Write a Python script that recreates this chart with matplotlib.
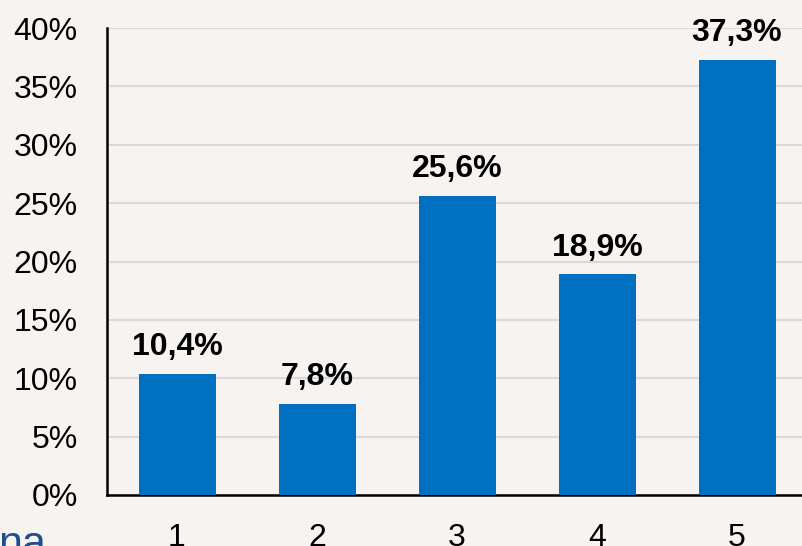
import matplotlib
matplotlib.use("Agg")
import matplotlib.pyplot as plt
from matplotlib.ticker import FuncFormatter

categories = ["1", "2", "3", "4", "5"]
values = [10.4, 7.8, 25.6, 18.9, 37.3]
labels = ["10,4%", "7,8%", "25,6%", "18,9%", "37,3%"]
yticks = [0, 5, 10, 15, 20, 25, 30, 35, 40]

plt.rcParams['font.family'] = ['Liberation Sans', 'DejaVu Sans']
bg = "#f6f3f0"
W, H = 802, 546
fig = plt.figure(figsize=(W / 100, H / 100), dpi=100, facecolor=bg)
ax = fig.add_axes([107 / W, (H - 495) / H, (807 - 107) / W, (495 - 28) / H])
ax.set_facecolor(bg)

x = list(range(1, len(categories) + 1))
ax.bar(x, values, width=0.55, color="#0070c0", zorder=3)
for xi, v, lab in zip(x, values, labels):
    ax.annotate(lab, (xi, v), xytext=(0, 13.5), textcoords="offset points",
                ha="center", va="baseline", fontsize=23, fontweight="bold", color="black")

ax.set_xlim(0.5, 5.5)
ax.set_ylim(0, 40)
ax.set_yticks(yticks)
ax.yaxis.set_major_formatter(FuncFormatter(lambda v, p: f"{int(v)}%"))
ax.set_xticks(x)
ax.set_xticklabels(categories)
ax.tick_params(axis="both", length=0, labelsize=23, colors="black")
ax.tick_params(axis="y", pad=21)
ax.tick_params(axis="x", pad=20)
ax.grid(axis="y", color="#d9d9d9", linewidth=1.5, zorder=0)
for s in ["top", "right"]:
    ax.spines[s].set_visible(False)
for s in ["left", "bottom"]:
    ax.spines[s].set_linewidth(1.8)
    ax.spines[s].set_color("black")

fig.text(46 / W, (H - 556) / H, "na", ha="right", va="baseline", fontsize=31, color="#1f4e8c")

fig.savefig("out.png", dpi=100, facecolor=bg)
